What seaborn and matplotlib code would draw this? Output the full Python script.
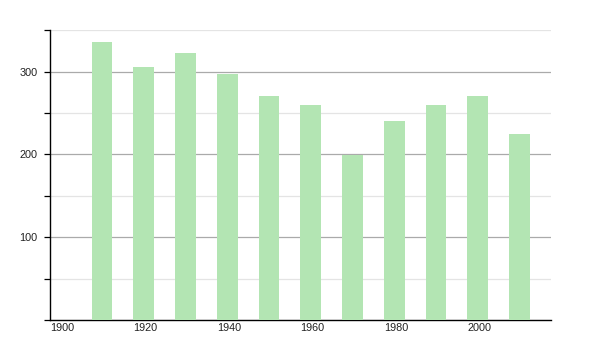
import matplotlib
matplotlib.use("Agg")
import matplotlib.pyplot as plt
import seaborn as sns
import pandas as pd
from matplotlib.ticker import MultipleLocator

years = [1910, 1920, 1930, 1940, 1950, 1960, 1970, 1980, 1990, 2000, 2010]
values = [336, 305, 322, 297, 270, 259, 199, 240, 260, 270, 225]
x_ticks = [1900, 1920, 1940, 1960, 1980, 2000]
y_ticks = [100, 200, 300]

sns.set_theme(style="white")
plt.rcParams['font.family'] = ['Liberation Sans', 'DejaVu Sans']

fig = plt.figure(figsize=(6, 3.5), dpi=100)
ax = fig.add_axes([0.083, 0.086, 0.835, 0.828])

df = pd.DataFrame({"year": years, "value": values})
df["pos"] = df["year"] + 2.5  # bars span year..year+5

sns.barplot(data=df, x="pos", y="value", native_scale=True, width=0.5,
            color="#b3e5b3", saturation=1, edgecolor="none", ax=ax, zorder=3)

ax.set_xlim(1900, 2020)
ax.set_ylim(0, 350)
ax.set_xlabel("")
ax.set_ylabel("")

ax.yaxis.set_major_locator(MultipleLocator(100))
ax.yaxis.set_minor_locator(MultipleLocator(50))
ax.set_yticks(y_ticks)
ax.grid(axis="y", which="major", color="#aaaaaa", linewidth=0.9, zorder=0)
ax.grid(axis="y", which="minor", color="#e4e4e4", linewidth=0.9, zorder=0)
ax.set_axisbelow(True)

ax.set_xticks(x_ticks)
ax.set_xticklabels([str(t) for t in x_ticks], ha="left")
ax.tick_params(axis="x", which="both", length=0, pad=2, labelsize=7.8, colors="#222222")
ax.tick_params(axis="y", which="major", left=True, length=4, width=0.9, color="black",
               pad=5, labelsize=7.8, labelcolor="#222222")
ax.tick_params(axis="y", which="minor", left=True, length=4, width=0.9, color="black")
for lbl in ax.get_xticklabels():
    lbl.set_x(lbl.get_position()[0])

for s in ["top", "right"]:
    ax.spines[s].set_visible(False)
for s in ["left", "bottom"]:
    ax.spines[s].set_color("black")
    ax.spines[s].set_linewidth(1.0)

fig.savefig("out.png", dpi=100)
